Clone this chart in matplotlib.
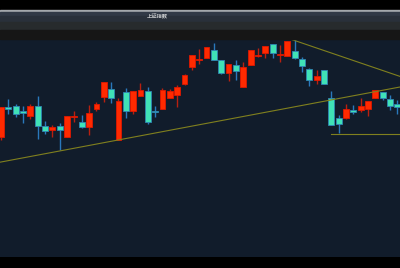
import matplotlib
matplotlib.use("Agg")
import matplotlib.pyplot as plt
from matplotlib.patches import Rectangle

# daily candles of the index (red = up, cyan = down)
opens = [3126, 3186, 3188, 3178, 3168, 3188, 3148, 3140, 3148, 3126, 3166, 3156, 3146, 3182,
         3206, 3222, 3120, 3216, 3178, 3208, 3218, 3178, 3182, 3204, 3210, 3232, 3266, 3280,
         3284, 3300, 3280, 3254, 3270, 3226, 3270, 3288, 3294, 3312, 3290, 3288, 3298, 3282,
         3262, 3240, 3260, 3204, 3164, 3164, 3180, 3180, 3182, 3204, 3216, 3202, 3192]
highs = [3186, 3202, 3192, 3188, 3192, 3208, 3158, 3150, 3154, 3168, 3178, 3170, 3190, 3196,
         3236, 3236, 3204, 3224, 3218, 3234, 3226, 3188, 3224, 3222, 3230, 3252, 3290, 3302,
         3306, 3314, 3280, 3272, 3280, 3276, 3300, 3304, 3308, 3312, 3310, 3318, 3322, 3286,
         3264, 3260, 3260, 3218, 3170, 3192, 3190, 3204, 3198, 3220, 3216, 3210, 3200]
lows = [3120, 3172, 3166, 3154, 3162, 3122, 3132, 3126, 3100, 3126, 3156, 3144, 3130, 3178,
        3196, 3194, 3120, 3164, 3172, 3208, 3152, 3166, 3182, 3204, 3186, 3230, 3260, 3272,
        3284, 3280, 3252, 3238, 3240, 3226, 3270, 3286, 3284, 3284, 3276, 3288, 3282, 3256,
        3228, 3232, 3232, 3150, 3134, 3162, 3172, 3176, 3168, 3204, 3200, 3180, 3172]
closes = [3186, 3182, 3172, 3174, 3188, 3148, 3138, 3146, 3140, 3168, 3168, 3146, 3174, 3192,
          3236, 3204, 3198, 3178, 3218, 3220, 3156, 3176, 3220, 3218, 3226, 3250, 3290, 3282,
          3306, 3280, 3254, 3272, 3258, 3266, 3300, 3290, 3308, 3294, 3292, 3318, 3284, 3268,
          3240, 3248, 3232, 3150, 3152, 3182, 3176, 3188, 3198, 3220, 3204, 3188, 3186]

# trend lines (candle index, price)
rising_line = [(0, 3076), (54, 3225)]
falling_line = ([39, 55], [3324, 3244])
flat_line = ([45, 55], [3132, 3132])

title = "上证指数"

UP_FILL, UP_EDGE, UP_WICK = "#ff2a00", "#e01800", "#b82010"
DN_FILL, DN_EDGE, DN_WICK = "#40e2b6", "#2f86b4", "#2a78bc"
LINE = "#80801e"

fig = plt.figure(figsize=(4, 2.68), dpi=100)
fig.patch.set_facecolor("#000000")

# header strips (figure coords, measured from top in px)
H = 268.0
def strip(top, bottom, color):
    fig.patches.append(Rectangle((0, 1 - bottom / H), 1, (bottom - top) / H,
                                 transform=fig.transFigure, color=color, zorder=0))

strip(10, 11.5, "#a4a8ac")
strip(11.5, 16, "#313946")
strip(16, 22, "#29303a")
strip(22, 30, "#272b2d")
strip(30, 39, "#161616")
fig.text(157 / 400, 1 - 17 / H, title, color="#c8cacc", fontsize=3.8, fontweight="bold",
         ha="center", va="center", family=["Noto Sans CJK SC", "DejaVu Sans"])

ax = fig.add_axes([0, 1 - 257 / H, 1, (257 - 39) / H])
ax.set_facecolor("#111c2b")
for s in ax.spines.values():
    s.set_visible(False)
ax.set_xticks([])
ax.set_yticks([])

idx = list(range(len(opens)))
for i in idx:
    o, h, l, c = opens[i], highs[i], lows[i], closes[i]
    up = c >= o
    wick = UP_WICK if up else DN_WICK
    ax.vlines(i, l, h, color=wick, linewidth=1.0, zorder=2)
    ax.bar(i, max(abs(c - o), 2), bottom=min(o, c), width=0.8,
           color=UP_FILL if up else DN_FILL,
           edgecolor=UP_EDGE if up else DN_EDGE, linewidth=0.6, zorder=3)

ax.axline(rising_line[0], rising_line[1], color=LINE, linewidth=0.8, zorder=4)
ax.plot(*falling_line, color=LINE, linewidth=0.8, zorder=4)
ax.plot(*flat_line, color=LINE, linewidth=0.8, zorder=4)

ax.set_xlim(-0.14, 54.36)
ax.set_ylim(2886, 3322)

fig.savefig("out.png", dpi=100, facecolor=fig.get_facecolor())
